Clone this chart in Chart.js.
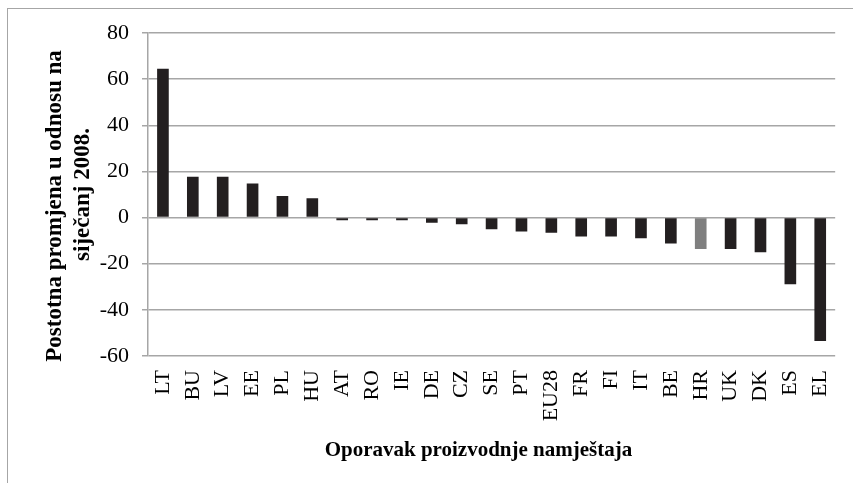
<!DOCTYPE html>
<html>
<head>
<meta charset="utf-8">
<script src="https://cdn.jsdelivr.net/npm/chart.js@4"></script>
<style>
  html, body { margin: 0; padding: 0; background: #fff; }
  #wrap { position: relative; width: 853px; height: 483px; }
  #frame { position: absolute; left: 7px; top: 8px; right: -10px; bottom: -10px;
           border-left: 1.5px solid #a6a6a6; border-top: 1.5px solid #a6a6a6; }
  canvas { position: absolute; left: 0; top: 0; }
</style>
</head>
<body>
<div id="wrap">
  <div id="frame"></div>
  <canvas id="furnitureChart" width="853" height="483"></canvas>
</div>
<script>
// countries, sorted by change
var countries = ['LT', 'BU', 'LV', 'EE', 'PL', 'HU', 'AT', 'RO', 'IE', 'DE', 'CZ', 'SE',
                 'PT', 'EU28', 'FR', 'FI', 'IT', 'BE', 'HR', 'UK', 'DK', 'ES', 'EL'];
// percent change vs January 2008
var changes = [64.5, 17.7, 17.7, 14.8, 9.3, 8.4, -1.2, -1.2, -1.2, -2.2, -2.9, -5.1,
               -6.0, -6.6, -8.2, -8.2, -9.0, -11.2, -13.6, -13.6, -15.0, -28.9, -53.5];
var yTicks = [80, 60, 40, 20, 0, -20, -40, -60];

var serif = "'Liberation Serif', 'Times New Roman', serif";

// HR is highlighted in gray
var barColors = countries.map(function(c) {
  return c === 'HR' ? '#7f7f7f' : '#231f20';
});

var ctx = document.getElementById('furnitureChart').getContext('2d');
var chart = new Chart(ctx, {
  type: 'bar',
  data: {
    labels: countries,
    datasets: [{
      data: changes,
      backgroundColor: barColors,
      borderWidth: 0,
      barPercentage: 0.39,
      categoryPercentage: 1.0
    }]
  },
  options: {
    responsive: false,
    animation: false,
    layout: { padding: { top: 33, right: 17, left: 0, bottom: 20 } },
    plugins: {
      legend: { display: false },
      tooltip: { enabled: false }
    },
    scales: {
      x: {
        grid: { display: false },
        border: { display: false },
        ticks: {
          color: '#000',
          font: { family: serif, size: 22 },
          maxRotation: 90,
          minRotation: 90,
          padding: 6,
          autoSkip: false
        },
        title: {
          display: true,
          // trailing spaces nudge the centred title a bit to the left
          text: 'Oporavak proizvodnje namještaja\u00a0\u00a0\u00a0\u00a0\u00a0',
          color: '#000',
          font: { family: serif, size: 21, weight: 'bold' },
          padding: { top: 4, bottom: 0 }
        },
        afterFit: function(scale) { scale.height = 107; }
      },
      y: {
        min: -60,
        max: 80,
        afterBuildTicks: function(scale) {
          scale.ticks = yTicks.map(function(v) { return { value: v }; });
        },
        grid: { color: '#a6a6a6', lineWidth: 1.5, tickLength: 6 },
        border: { color: '#a6a6a6', width: 1.5 },
        ticks: {
          color: '#000',
          font: { family: serif, size: 22 },
          padding: 13
        },
        title: {
          display: true,
          // trailing spaces push the first rotated line slightly down
          text: ['Postotna promjena u odnosu na\u00a0\u00a0\u00a0\u00a0', 'siječanj 2008.'],
          color: '#000',
          font: { family: serif, size: 23, weight: 'bold', lineHeight: 1.22 },
          padding: { top: 41, bottom: 10 }
        },
        afterFit: function(scale) { scale.width = 148; }
      }
    }
  }
});
</script>
</body>
</html>
